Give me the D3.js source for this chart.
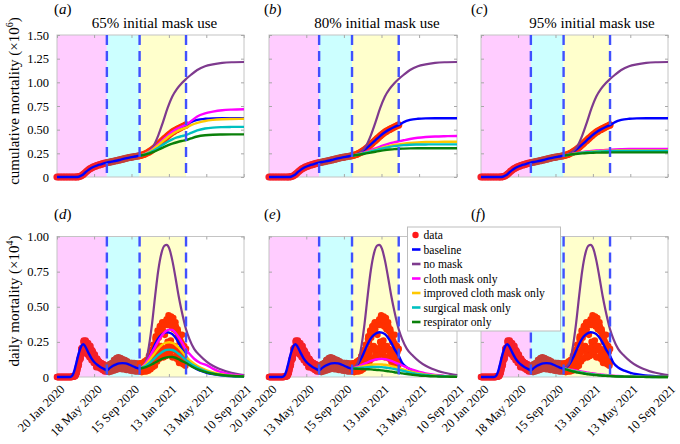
<!DOCTYPE html>
<html><head><meta charset="utf-8">
<script src="https://cdn.jsdelivr.net/npm/d3@7"></script>
<style>
body{margin:0;background:#fff}
text{font-family:"Liberation Serif","Times New Roman",serif;fill:#000}
</style>
</head><body>
<svg id="chart" width="680" height="444"></svg>
<script>
// ---------------- DATA ----------------
const xTickDays = [0,119,239,359,479,599];
const xTickLabelsD = ["20 Jan 2020","18 May 2020","15 Sep 2020","13 Jan 2021","13 May 2021","10 Sep 2021"];
const xTickLabelsE = ["20 Jan 2020","13 May 2020","15 Sep 2020","13 Jan 2021","13 May 2021","10 Sep 2021"];
const xTickLabelsF = ["20 Jan 2020","18 May 2020","15 Sep 2020","13 Jan 2021","13 May 2021","10 Sep 2021"];
const yTicksCum = [0,0.25,0.5,0.75,1,1.25,1.5];
const yTickLabelsCum = ["0","0.25","0.50","0.75","1.00","1.25","1.50"];
const yTicksDaily = [0,0.25,0.5,0.75,1];
const yTickLabelsDaily = ["0","0.25","0.50","0.75","1.00"];
const phaseBounds = [0,160,265,414];
const panelTitles = ["65% initial mask use","80% initial mask use","95% initial mask use"];
const panelLetters = ["a","b","c","d","e","f"];
const legendLabels = ["data","baseline","no mask","cloth mask only","improved cloth mask only","surgical mask only","respirator only"];

// cumulative data (x10^6), every 5 days from day 0 to 410, then day 414
const cumData = [0,0,0,0,0,0,0,0,0,0,0,0,0,
 0.001,0.003,0.008,0.018,0.03,0.045,0.06,0.073,0.085,0.095,
 0.104,0.111,0.117,0.123,0.128,0.133,0.138,0.143,0.148,0.152,
 0.155,0.158,0.162,0.165,0.169,0.172,0.176,0.18,0.184,0.188,
 0.192,0.196,0.2,0.204,0.207,0.21,0.213,0.216,0.219,0.222,
 0.225,0.229,0.234,0.24,0.247,0.255,0.265,0.275,0.287,0.3,
 0.314,0.329,0.344,0.359,0.374,0.389,0.405,0.42,0.434,0.448,
 0.461,0.473,0.484,0.494,0.503,0.512,0.52,0.528,0.536,0.544,
 0.55];

// daily data (x10^4), one value per day
const dailyData1 = [ // day 0..160
 0,0,0,0,0,0,0, 0,0,0,0,0,0,0, 0,0,0,0,0,0,0, 0,0,0,0,0,0,0, 0,0,0,0,0,0,0, 0,0,0,0,0,0,0,
 0,0,0,0,0,0,0.001,
 0.001,0.002,0.003,0.003,0.005,0.006,0.006,
 0.004,0.006,0.008,0.011,0.015,0.02,0.025,
 0.03,0.04,0.05,0.06,0.07,0.08,0.08,
 0.09,0.11,0.12,0.13,0.14,0.14,0.13,
 0.16,0.2,0.2,0.2,0.21,0.19,0.17,
 0.2,0.25,0.26,0.25,0.24,0.21,0.18,
 0.19,0.26,0.25,0.24,0.22,0.2,0.16,
 0.17,0.24,0.24,0.22,0.21,0.17,0.14,
 0.15,0.22,0.22,0.2,0.19,0.15,0.12,
 0.14,0.19,0.18,0.18,0.16,0.13,0.1,
 0.11,0.16,0.16,0.15,0.13,0.11,0.09,
 0.07,0.08,0.13,0.13,0.12,0.1,0.07,
 0.08,0.11,0.11,0.1,0.1,0.07,0.06,
 0.07,0.1,0.1,0.09,0.08,0.06,0.05,
 0.06,0.09,0.09,0.08,0.07,0.05,0.04,
 0.05,0.08,0.08,0.07,0.06,0.05,0.04];
const dailyData2 = [ // day 161..265
 0.045,0.08,0.08,0.07,0.065,0.05,0.035,
 0.05,0.09,0.09,0.08,0.08,0.055,0.04,
 0.06,0.1,0.1,0.095,0.09,0.065,0.045,
 0.07,0.12,0.12,0.105,0.1,0.075,0.05,
 0.075,0.13,0.135,0.12,0.11,0.08,0.055,
 0.08,0.14,0.135,0.12,0.115,0.085,0.06,
 0.075,0.135,0.13,0.115,0.11,0.08,0.055,
 0.07,0.125,0.125,0.11,0.105,0.075,0.055,
 0.065,0.12,0.115,0.105,0.1,0.07,0.05,
 0.06,0.11,0.11,0.1,0.095,0.065,0.05,
 0.05,0.06,0.1,0.09,0.09,0.065,0.045,
 0.06,0.1,0.1,0.09,0.085,0.06,0.045,
 0.055,0.095,0.1,0.09,0.085,0.06,0.04,
 0.055,0.095,0.095,0.085,0.08,0.06,0.04,
 0.05,0.09,0.095,0.085,0.08,0.055,0.04];
const dailyData3 = [ // day 266..414
 0.05,0.095,0.095,0.085,0.08,0.055,0.035,
 0.055,0.1,0.1,0.09,0.085,0.06,0.04,
 0.06,0.11,0.11,0.095,0.09,0.06,0.04,
 0.07,0.12,0.12,0.11,0.1,0.07,0.045,
 0.08,0.15,0.15,0.13,0.12,0.08,0.055,
 0.1,0.19,0.19,0.17,0.15,0.1,0.07,
 0.13,0.23,0.23,0.16,0.14,0.13,0.08,
 0.16,0.27,0.29,0.28,0.25,0.17,0.11,
 0.19,0.33,0.32,0.31,0.28,0.2,0.13,
 0.21,0.36,0.36,0.34,0.31,0.22,0.14,
 0.21,0.38,0.39,0.34,0.17,0.2,0.14,
 0.2,0.37,0.38,0.3,0.15,0.2,0.15,
 0.2,0.4,0.41,0.4,0.37,0.25,0.16,
 0.22,0.44,0.41,0.4,0.37,0.25,0.16,
 0.18,0.26,0.43,0.4,0.36,0.22,0.14,
 0.2,0.4,0.42,0.38,0.34,0.22,0.14,
 0.19,0.36,0.39,0.36,0.33,0.2,0.13,
 0.17,0.32,0.34,0.32,0.29,0.19,0.11,
 0.1,0.18,0.25,0.25,0.26,0.16,0.1,
 0.13,0.24,0.3,0.23,0.2,0.15,0.09,
 0.12,0.21,0.22,0.2,0.18,0.12,0.08,
 0.1,0.2];

// baseline model (same in all panels)
const baseCumDays = [0,60,70,80,90,100,110,120,130,140,150,160,175,190,205,220,235,250,265,280,295,310,325,340,355,370,385,400,414,430,450,475,500,530,560,600];
const baseCum = [0,0,0.003,0.018,0.045,0.073,0.095,0.111,0.123,0.133,0.143,0.152,0.162,0.172,0.184,0.196,0.207,0.216,0.225,0.24,0.265,0.3,0.344,0.389,0.434,0.473,0.503,0.528,0.548,0.58,0.603,0.615,0.619,0.62,0.62,0.62];
const baseDailyDays = [0,40,47,55,62,70,78,84,90,100,110,120,130,140,150,160,170,180,190,200,210,220,230,240,250,265,275,285,295,305,315,325,335,345,352,360,370,380,390,400,414,425,440,460,480,500,520,540,560,580,600];
const baseDaily = [0,0,0.005,0.04,0.1,0.17,0.22,0.234,0.22,0.175,0.135,0.105,0.085,0.07,0.058,0.048,0.065,0.08,0.09,0.097,0.099,0.097,0.09,0.08,0.07,0.06,0.07,0.095,0.135,0.185,0.235,0.275,0.3,0.314,0.318,0.316,0.305,0.28,0.245,0.2,0.15,0.1,0.068,0.045,0.03,0.02,0.013,0.009,0.006,0.004,0.003];

// scenario models, cumulative (x10^6)
const scenCumDays = [265,280,295,310,325,340,355,370,385,400,414,430,450,475,500,530,560,600];
const noMaskCum = [0.225,0.24,0.27,0.33,0.44,0.58,0.73,0.85,0.93,0.99,1.035,1.08,1.13,1.17,1.19,1.205,1.212,1.215];
const clothCumA = [0.225,0.24,0.266,0.302,0.347,0.392,0.437,0.477,0.508,0.532,0.552,0.59,0.64,0.672,0.69,0.705,0.712,0.716];
const improvedCumA = [0.225,0.239,0.263,0.296,0.337,0.379,0.42,0.455,0.483,0.505,0.522,0.548,0.572,0.592,0.603,0.61,0.613,0.615];
const surgicalCumA = [0.225,0.236,0.255,0.28,0.31,0.342,0.372,0.398,0.418,0.432,0.443,0.465,0.492,0.512,0.522,0.527,0.529,0.53];
const respCumA = [0.225,0.233,0.248,0.266,0.288,0.311,0.333,0.352,0.367,0.38,0.39,0.408,0.428,0.441,0.447,0.449,0.45,0.45];
const clothCumB = [0.225,0.236,0.25,0.266,0.284,0.303,0.322,0.34,0.355,0.367,0.377,0.388,0.401,0.414,0.422,0.428,0.431,0.433];
const improvedCumB = [0.225,0.235,0.247,0.26,0.274,0.289,0.303,0.317,0.329,0.338,0.345,0.352,0.359,0.365,0.369,0.371,0.372,0.373];
const surgicalCumB = [0.225,0.234,0.245,0.257,0.27,0.283,0.296,0.308,0.318,0.326,0.332,0.337,0.341,0.343,0.344,0.345,0.345,0.345];
const respCumB = [0.225,0.232,0.24,0.249,0.258,0.267,0.276,0.284,0.29,0.295,0.298,0.3,0.302,0.303,0.303,0.303,0.303,0.303];
const clothCumC = [0.225,0.235,0.245,0.254,0.262,0.269,0.275,0.28,0.284,0.287,0.289,0.291,0.293,0.295,0.296,0.296,0.296,0.296];
const improvedCumC = [0.225,0.234,0.243,0.251,0.258,0.264,0.268,0.272,0.275,0.277,0.278,0.279,0.28,0.28,0.28,0.28,0.28,0.28];
const surgicalCumC = [0.225,0.234,0.242,0.25,0.256,0.261,0.265,0.268,0.27,0.272,0.273,0.274,0.275,0.275,0.275,0.275,0.275,0.275];
const respCumC = [0.225,0.233,0.24,0.246,0.25,0.253,0.255,0.257,0.258,0.259,0.26,0.26,0.26,0.26,0.26,0.26,0.26,0.26];

// scenario models, daily (x10^4)
const scenDailyDays = [265,275,285,295,305,315,325,335,345,352,360,370,380,390,400,414,425,440,460,480,500,520,540,560,580,600];
const noMaskDaily = [0.06,0.075,0.11,0.22,0.38,0.58,0.76,0.88,0.935,0.94,0.915,0.83,0.71,0.58,0.47,0.34,0.27,0.2,0.15,0.11,0.08,0.058,0.042,0.03,0.02,0.014];
const clothDailyD = [0.06,0.075,0.1,0.135,0.175,0.215,0.255,0.29,0.318,0.33,0.337,0.335,0.315,0.285,0.25,0.195,0.165,0.13,0.1,0.085,0.06,0.04,0.027,0.018,0.012,0.008];
const improvedDailyD = [0.06,0.072,0.09,0.115,0.145,0.175,0.203,0.225,0.24,0.245,0.247,0.243,0.23,0.21,0.185,0.145,0.12,0.095,0.068,0.048,0.033,0.022,0.015,0.01,0.007,0.005];
const surgicalDailyD = [0.06,0.068,0.08,0.097,0.117,0.137,0.157,0.175,0.188,0.193,0.195,0.192,0.182,0.165,0.147,0.12,0.102,0.08,0.056,0.038,0.026,0.017,0.011,0.008,0.005,0.003];
const respDailyD = [0.06,0.064,0.071,0.08,0.091,0.103,0.115,0.127,0.136,0.14,0.142,0.142,0.137,0.127,0.115,0.1,0.085,0.066,0.047,0.033,0.023,0.016,0.011,0.007,0.005,0.003];
const clothDailyE = [0.06,0.066,0.075,0.085,0.095,0.105,0.114,0.121,0.126,0.128,0.129,0.127,0.122,0.115,0.106,0.093,0.082,0.067,0.05,0.036,0.026,0.018,0.012,0.008,0.005,0.003];
const improvedDailyE = [0.06,0.064,0.069,0.074,0.079,0.083,0.087,0.089,0.09,0.09,0.089,0.087,0.083,0.078,0.072,0.063,0.056,0.046,0.035,0.025,0.018,0.012,0.008,0.006,0.004,0.002];
const surgicalDailyE = [0.06,0.062,0.064,0.066,0.068,0.07,0.071,0.072,0.072,0.071,0.07,0.068,0.065,0.061,0.057,0.05,0.045,0.037,0.028,0.02,0.014,0.01,0.007,0.005,0.003,0.002];
const respDailyE = [0.06,0.059,0.058,0.057,0.056,0.055,0.054,0.052,0.05,0.049,0.047,0.044,0.041,0.038,0.034,0.03,0.026,0.021,0.016,0.011,0.008,0.005,0.004,0.003,0.002,0.001];
const clothDailyF = [0.06,0.057,0.054,0.05,0.046,0.042,0.038,0.034,0.03,0.028,0.025,0.022,0.019,0.016,0.014,0.011,0.009,0.007,0.005,0.003,0.002,0.001,0.001,0.001,0.001,0.001];
const improvedDailyF = [0.06,0.055,0.05,0.045,0.04,0.036,0.032,0.028,0.025,0.023,0.02,0.018,0.015,0.013,0.011,0.009,0.007,0.005,0.004,0.003,0.002,0.001,0.001,0.001,0,0];
const surgicalDailyF = [0.06,0.054,0.048,0.043,0.038,0.034,0.03,0.026,0.023,0.021,0.019,0.016,0.014,0.012,0.01,0.008,0.006,0.005,0.003,0.002,0.002,0.001,0.001,0,0,0];
const respDailyF = [0.06,0.052,0.045,0.039,0.034,0.03,0.026,0.022,0.019,0.017,0.015,0.013,0.011,0.009,0.008,0.006,0.005,0.004,0.003,0.002,0.001,0.001,0,0,0,0];

// ---------------- STYLE / LAYOUT ----------------
const FONT = '"Liberation Serif","Times New Roman",serif';
const C = {base:"#0000ff", noMask:"#7e3a8e", cloth:"#ff00ff", improved:"#ffc800", surgical:"#00c0c0", resp:"#0a800a"};
const regionFill = ["#ffccff","#ccffff","#ffffcc"];
const dotFill = ["#f5202a","#c4403a","#ff3000"];
const cols = [{x0:57,x1:244},{x0:269,x1:457},{x0:481,x1:668}];
const rows = [{y0:35,y1:177},{y0:236.5,y1:377}];
const titleX = [154.5,377,592];
const letterX = [54,264,471];

const svg = d3.select("#chart");

const cumDataDays = cumData.map((v,i)=> i < cumData.length-1 ? i*5 : 414);
const dailyPts = [];
dailyData1.forEach((v,i)=>dailyPts.push({t:i, v, r:0}));
dailyData2.forEach((v,i)=>dailyPts.push({t:161+i, v, r:1}));
dailyData3.forEach((v,i)=>dailyPts.push({t:266+i, v, r:2}));
const regionOf = t => t<=160?0:(t<=265?1:2);
const cumPts = cumData.map((v,i)=>({t:cumDataDays[i], v, r:regionOf(cumDataDays[i])}));

const toPts = (days, vals) => days.map((d,i)=>({t:d, v:vals[i]}));

const panels = [
 {row:0,col:0,pts:cumPts,base:toPts(baseCumDays,baseCum),noMask:toPts(scenCumDays,noMaskCum),
  sc:[toPts(scenCumDays,clothCumA),toPts(scenCumDays,improvedCumA),toPts(scenCumDays,surgicalCumA),toPts(scenCumDays,respCumA)]},
 {row:0,col:1,pts:cumPts,base:toPts(baseCumDays,baseCum),noMask:toPts(scenCumDays,noMaskCum),
  sc:[toPts(scenCumDays,clothCumB),toPts(scenCumDays,improvedCumB),toPts(scenCumDays,surgicalCumB),toPts(scenCumDays,respCumB)]},
 {row:0,col:2,pts:cumPts,base:toPts(baseCumDays,baseCum),noMask:toPts(scenCumDays,noMaskCum),
  sc:[toPts(scenCumDays,clothCumC),toPts(scenCumDays,improvedCumC),toPts(scenCumDays,surgicalCumC),toPts(scenCumDays,respCumC)]},
 {row:1,col:0,pts:dailyPts,base:toPts(baseDailyDays,baseDaily),noMask:toPts(scenDailyDays,noMaskDaily),labels:xTickLabelsD,
  sc:[toPts(scenDailyDays,clothDailyD),toPts(scenDailyDays,improvedDailyD),toPts(scenDailyDays,surgicalDailyD),toPts(scenDailyDays,respDailyD)]},
 {row:1,col:1,pts:dailyPts,base:toPts(baseDailyDays,baseDaily),noMask:toPts(scenDailyDays,noMaskDaily),labels:xTickLabelsE,
  sc:[toPts(scenDailyDays,clothDailyE),toPts(scenDailyDays,improvedDailyE),toPts(scenDailyDays,surgicalDailyE),toPts(scenDailyDays,respDailyE)]},
 {row:1,col:2,pts:dailyPts,base:toPts(baseDailyDays,baseDaily),noMask:toPts(scenDailyDays,noMaskDaily),labels:xTickLabelsF,
  sc:[toPts(scenDailyDays,clothDailyF),toPts(scenDailyDays,improvedDailyF),toPts(scenDailyDays,surgicalDailyF),toPts(scenDailyDays,respDailyF)]}
];
const scColors = [C.cloth,C.improved,C.surgical,C.resp];

panels.forEach((p,pi)=>{
  const {x0,x1} = cols[p.col], {y0,y1} = rows[p.row];
  const x = d3.scaleLinear().domain([0,600]).range([x0,x1]);
  const y = d3.scaleLinear().domain(p.row===0?[0,1.5]:[0,1]).range([y1,y0]);
  const g = svg.append("g");
  for(let i=0;i<3;i++){
    g.append("rect").attr("x",x(phaseBounds[i])).attr("y",y0)
     .attr("width",x(phaseBounds[i+1])-x(phaseBounds[i])).attr("height",y1-y0)
     .attr("fill",regionFill[i]);
  }
  g.append("rect").attr("x",x0).attr("y",y0).attr("width",x1-x0).attr("height",y1-y0)
   .attr("fill","none").attr("stroke","#c4c4c4").attr("stroke-width",1);
  const yt = p.row===0?yTicksCum:yTicksDaily;
  const ytl = p.row===0?yTickLabelsCum:yTickLabelsDaily;
  const axL = d3.axisLeft(y).tickValues(yt).tickSize(-3).tickPadding(8)
     .tickFormat((d,i)=> p.col===0 ? ytl[i] : "");
  const gl = g.append("g").attr("transform",`translate(${x0},0)`).call(axL);
  const axR = d3.axisRight(y).tickValues(yt).tickSize(-3).tickFormat("");
  const gr = g.append("g").attr("transform",`translate(${x1},0)`).call(axR);
  const axT = d3.axisTop(x).tickValues(xTickDays).tickSize(-3).tickFormat("");
  const gt = g.append("g").attr("transform",`translate(0,${y0})`).call(axT);
  const labels = p.labels;
  const axB = d3.axisBottom(x).tickValues(xTickDays).tickSize(-3)
     .tickFormat((d,i)=> labels ? labels[i] : "");
  const gb = g.append("g").attr("transform",`translate(0,${y1})`).call(axB);
  [gl,gr,gt,gb].forEach(a=>{
    a.attr("font-family",FONT);
    a.select(".domain").remove();
    a.selectAll(".tick line").attr("stroke","#a8a8a8");
    a.selectAll("text").style("font-family",FONT).attr("fill","#000");
  });
  gl.selectAll("text").style("font-size","12.5px");
  if(labels){
    gb.selectAll("text").style("font-size","12.5px")
      .attr("text-anchor","end").attr("y",0).attr("dy",null)
      .attr("transform","translate(8,13) rotate(-45)");
  }
  g.append("g").selectAll("circle").data(p.pts).join("circle")
    .attr("cx",d=>x(d.t)).attr("cy",d=>y(d.v)).attr("r",p.row===0?3.6:3.3)
    .attr("fill",d=>dotFill[d.r]);
  const line = d3.line().x(d=>x(d.t)).y(d=>y(d.v)).curve(d3.curveMonotoneX);
  g.append("path").attr("d",line(p.base)).attr("fill","none").attr("stroke",C.base).attr("stroke-width",2.4);
  g.append("path").attr("d",line(p.noMask)).attr("fill","none").attr("stroke",C.noMask).attr("stroke-width",2.2);
  p.sc.forEach((s,si)=>{
    g.append("path").attr("d",line(s)).attr("fill","none").attr("stroke",scColors[si]).attr("stroke-width",2.4);
  });
  phaseBounds.slice(1).forEach(b=>{
    g.append("line").attr("x1",x(b)).attr("x2",x(b)).attr("y1",y0).attr("y2",y1)
     .attr("stroke","#4050ff").attr("stroke-width",2.4).attr("stroke-dasharray","10,6");
  });
  const lt = svg.append("text").attr("x",letterX[p.col]).attr("y",p.row===0?14:219).style("font-size","15px");
  lt.append("tspan").text("(");
  lt.append("tspan").style("font-style","italic").text(panelLetters[pi]);
  lt.append("tspan").text(")");
  if(p.row===0){
    svg.append("text").attr("x",titleX[p.col]).attr("y",28).attr("text-anchor","middle")
      .style("font-size","15px").text(panelTitles[p.col]);
  }
});

function yLabel(cx, cy, main, sup){
  const t = svg.append("text").attr("transform",`translate(${cx},${cy}) rotate(-90)`)
    .attr("text-anchor","middle").style("font-size","15px");
  t.append("tspan").text(main);
  t.append("tspan").attr("dy","-6").style("font-size","10px").text(sup);
  t.append("tspan").attr("dy","6").text(")");
}
yLabel(19,101,"cumulative mortality (×10","6");
yLabel(19,301,"daily mortality (×10","4");

const lg = svg.append("g");
lg.append("rect").attr("x",407.5).attr("y",227).attr("width",153).attr("height",104)
  .attr("fill","#fff").attr("stroke","#bdbdbd").attr("stroke-width",1);
const legColors = [dotFill[0],C.base,C.noMask,C.cloth,C.improved,C.surgical,C.resp];
const ly = d3.scaleLinear().domain([0,6]).range([235,322]);
legendLabels.forEach((lab,i)=>{
  if(i===0){
    lg.append("circle").attr("cx",415.5).attr("cy",ly(i)).attr("r",3.2).attr("fill","#ff1a1a");
  } else {
    lg.append("line").attr("x1",412).attr("x2",420.5).attr("y1",ly(i)).attr("y2",ly(i))
      .attr("stroke",legColors[i]).attr("stroke-width",2.6);
  }
  lg.append("text").attr("x",423.5).attr("y",ly(i)+4).style("font-size","11.6px").text(lab);
});
</script>
</body></html>
